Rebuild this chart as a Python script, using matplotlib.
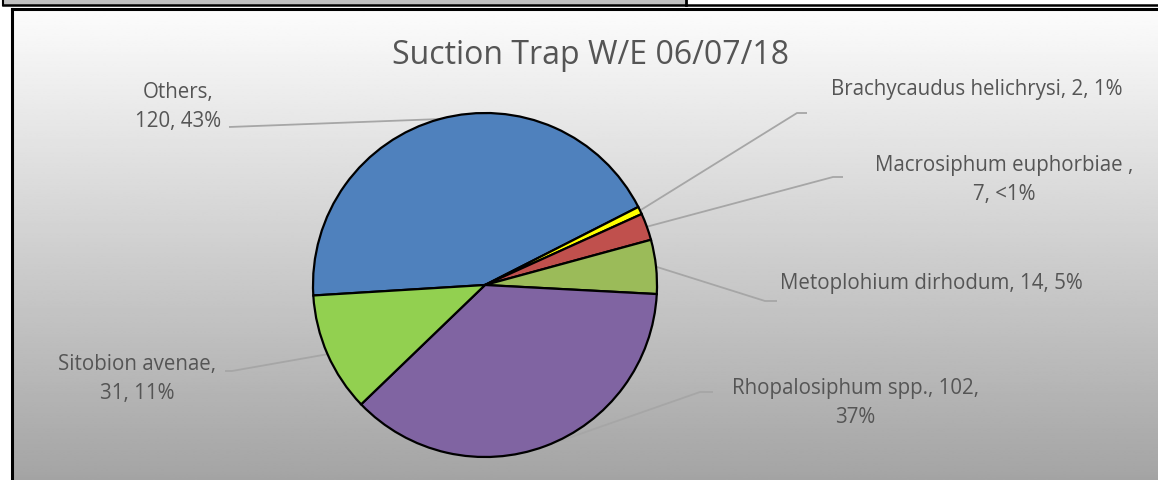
import numpy as np
import matplotlib
matplotlib.use("Agg")
import matplotlib.pyplot as plt
from matplotlib.patches import Rectangle

# ---- data ----
categories = ["Others", "Brachycaudus helichrysi", "Macrosiphum euphorbiae",
              "Metoplohium dirhodum", "Rhopalosiphum spp.", "Sitobion avenae"]
counts = [120, 2, 7, 14, 102, 31]
labels = ["Others,\n120, 43%", "Brachycaudus helichrysi, 2, 1%",
          "Macrosiphum euphorbiae ,\n7, <1%", "Metoplohium dirhodum, 14, 5%",
          "Rhopalosiphum spp., 102,\n37%", "Sitobion avenae,\n31, 11%"]
colors = ["#4F81BD", "#FFFF00", "#C0504D", "#9BBB59", "#8064A2", "#92D050"]
title = "Suction Trap W/E 06/07/18"

W, H = 1158, 480
fig = plt.figure(figsize=(W / 100, H / 100), dpi=100)
ax = fig.add_axes([0, 0, 1, 1])
ax.set_xlim(0, W)
ax.set_ylim(0, H)
ax.axis("off")

def Y(yp):
    return H - yp

FONT = ["Open Sans", "DejaVu Sans"]
TXT = "#555555"

# top strip (window chrome)
fig.patch.set_facecolor("white")
ax.add_patch(Rectangle((3, Y(5)), 683, 5, facecolor="#c0c0c0", edgecolor="none", zorder=0))
ax.plot([3, 3], [Y(0), Y(5)], color="black", lw=1.5, zorder=1)
ax.plot([686, 686], [Y(0), Y(5)], color="black", lw=2, zorder=1)
ax.plot([3, W], [Y(4.5), Y(4.5)], color="black", lw=1.8, zorder=1)

# chart area gradient background
grad = np.linspace(252, 164, 256)[:, None] / 255.0
ax.imshow(np.repeat(grad, 2, axis=1), cmap="gray", vmin=0, vmax=1,
          extent=[12, W, Y(480), Y(9)], aspect="auto", zorder=0.5, interpolation="bilinear")
ax.plot([12, W], [Y(9), Y(9)], color="black", lw=2.2, zorder=1)
ax.plot([12, 12], [Y(9), Y(480)], color="black", lw=2.2, zorder=1)

# pie
cx, cy, R = 485, Y(285), 172
start = 183.5
wedges, _ = ax.pie(counts, colors=colors, startangle=start, counterclock=False,
                   center=(cx, cy), radius=R, frame=True,
                   wedgeprops=dict(edgecolor="black", linewidth=1.6))
for w in wedges:
    w.set_zorder(3)
ax.set_xlim(0, W)
ax.set_ylim(0, H)
ax.set_aspect("equal")
ax.axis("off")

# label layout (pixel positions)
label_pos = [(178, 107), (977, 90), (1004, 180), (931, 283), (855, 403), (137, 379)]
ha_list = ["center"] * 6
leader_end = [(229, 127), (807, 113), (843, 177), (777, 301), (713, 392), (225, 371)]
leader_elbow = [(229, 127), (797, 113), (833, 177), (765, 301), (700, 392), (232, 371)]

for i, w in enumerate(wedges):
    mid = np.deg2rad((w.theta1 + w.theta2) / 2)
    px, py = cx + R * np.cos(mid), cy + R * np.sin(mid)
    ex, ey = leader_elbow[i]
    fx, fy = leader_end[i]
    ax.plot([px, ex, fx], [py, Y(ey), Y(fy)], color="#a6a6a6", lw=1.3, zorder=2,
            solid_capstyle="butt")
    lx, ly = label_pos[i]
    ax.text(lx, Y(ly), labels[i], ha=ha_list[i], va="center", color=TXT,
            fontsize=14.8, family=FONT, linespacing=1.47, zorder=4)

ax.text(590, Y(55), title, ha="center", va="center", color=TXT, fontsize=23,
        family=FONT, zorder=4)

fig.savefig("out.png", dpi=100)
